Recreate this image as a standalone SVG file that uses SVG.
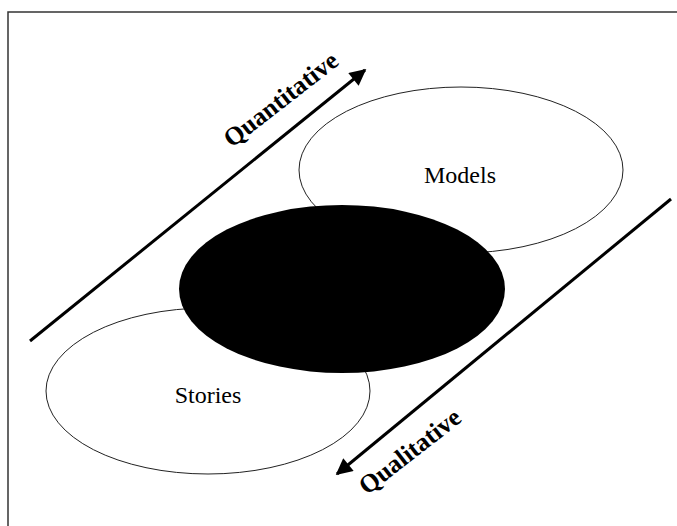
<svg xmlns="http://www.w3.org/2000/svg" width="677" height="526" viewBox="0 0 677 526">
<style>
.oval{fill:#fff;stroke:#222;stroke-width:1}
.lbl{font-family:"Liberation Serif",serif;font-size:24px;fill:#000;text-anchor:middle}
.axis{font-family:"Liberation Serif",serif;font-size:25.5px;font-weight:bold;fill:#000;text-anchor:middle}
.arr{stroke:#000;stroke-width:3;fill:none}
</style>
<defs>
<marker id="ah" viewBox="0 0 10 10" refX="9" refY="5" markerWidth="6.5" markerHeight="5.5" orient="auto" markerUnits="strokeWidth">
<path d="M0,0 L10,5 L0,10 z" fill="#000"/>
</marker>
</defs>
<rect width="677" height="526" fill="#fff"/>
<path d="M8,526 L8,12 L677,12" fill="none" stroke="#333" stroke-width="1.5"/>
<g id="models"><ellipse class="oval" cx="461" cy="170" rx="162" ry="83"/><text class="lbl" x="460" y="183">Models</text></g>
<g id="stories"><ellipse class="oval" cx="208" cy="391" rx="162" ry="83"/><text class="lbl" x="208" y="403">Stories</text></g>
<g id="core"><ellipse cx="342" cy="289" rx="163" ry="84" fill="#000"/></g>
<g id="connectors">
<line class="arr" x1="30" y1="341" x2="365" y2="70" marker-end="url(#ah)"/>
<line class="arr" x1="671" y1="199" x2="337" y2="474" marker-end="url(#ah)"/>
</g>
<g id="labels">
<text class="axis" transform="translate(286,106) rotate(-38)">Quantitative</text>
<text class="axis" transform="translate(415,458) rotate(-38)">Qualitative</text>
</g>
</svg>
